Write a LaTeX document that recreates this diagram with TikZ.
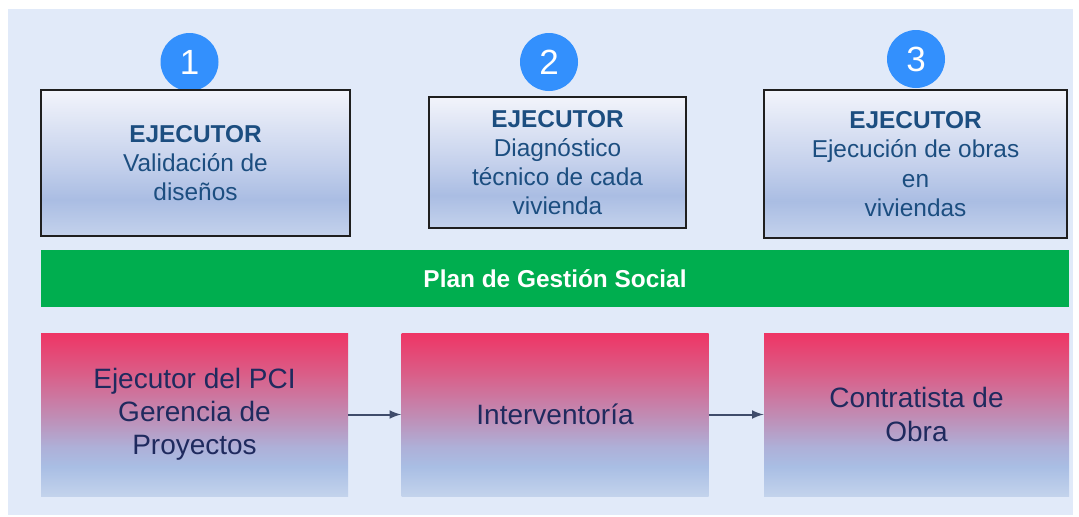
\documentclass[tikz,border=0pt]{standalone}
\usepackage{fontspec}
\setmainfont{Liberation Sans}
\usetikzlibrary{positioning}

\definecolor{fondo}{HTML}{E1EAF9}
\definecolor{textoazul}{HTML}{1C4E80}
\definecolor{textonavy}{HTML}{1F2A5E}
\definecolor{verdeplan}{HTML}{00AE4F}
\definecolor{azulnum}{HTML}{3390FD}
\definecolor{flechac}{HTML}{3F4C6B}
\definecolor{tbA}{HTML}{F2F4FB}
\definecolor{tbB}{HTML}{C5D1EC}
\definecolor{tbC}{HTML}{AABDE3}
\definecolor{tbD}{HTML}{C4D2EC}
\definecolor{bbA}{HTML}{EE3565}
\definecolor{bbB}{HTML}{DA5E88}
\definecolor{bbC}{HTML}{BE90B8}
\definecolor{bbD}{HTML}{AEB0D8}
\definecolor{bbE}{HTML}{A9BEE4}
\definecolor{bbF}{HTML}{C3D3EC}

\pgfdeclareverticalshading{ejecutorshade}{100bp}{color(0bp)=(tbD); color(25bp)=(tbD); color(37.5bp)=(tbC); color(50bp)=(tbB); color(75bp)=(tbA); color(100bp)=(tbA)}
\pgfdeclareverticalshading{actorshade}{100bp}{color(0bp)=(bbF); color(25bp)=(bbF); color(34bp)=(bbE); color(40bp)=(bbD); color(48.5bp)=(bbC); color(62.5bp)=(bbB); color(75bp)=(bbA); color(100bp)=(bbA)}

\tikzset{
  ejecutor/.style={draw=black!88, line width=0.75pt, shading=ejecutorshade, align=center,
    text=textoazul, font=\fontsize{12.2}{14.6}\selectfont, inner sep=0pt},
  actor/.style={shading=actorshade, align=center, text=textonavy,
    font=\fontsize{14}{16.6}\selectfont, inner sep=0pt,
    minimum width=153.5pt, minimum height=81.5pt},
  numcirc/.style={circle, fill=azulnum, text=white, inner sep=0pt,
    minimum size=29pt, font=\fontsize{17.5}{17.5}\selectfont},
  flecha/.style={-latex, line width=1pt, color=flechac},
}

\begin{document}
\begin{tikzpicture}[x=0.5pt,y=-0.5pt]
		\useasboundingbox (0,0) rectangle (1079,516);
		\fill[fondo] (8,9) rectangle (1073,515);
		% numeros
		\node[numcirc] (n1) at (189.5,62) {1};
		\node[numcirc] (n2) at (549,62) {2};
		\node[numcirc] (n3) at (916,59) {3};
		% cajas ejecutor
		\node[ejecutor, minimum width=154.5pt, minimum height=73pt] (valid) at (195.5,163)
			{\textbf{EJECUTOR}\\Validación de\\diseños};
		\node[ejecutor, minimum width=128.5pt, minimum height=65.5pt] (diag) at (557.5,162.5)
			{\textbf{EJECUTOR}\\Diagnóstico\\técnico de cada\\vivienda};
		\node[ejecutor, minimum width=151.5pt, minimum height=74pt] (obras) at (915.5,164)
			{\textbf{EJECUTOR}\\Ejecución de obras\\en\\viviendas};
		% plan
		\node[fill=verdeplan, text=white, minimum width=514pt, minimum height=28.5pt,
			font=\fontsize{12.2}{13}\selectfont\bfseries] (plan) at (555,278.5) {Plan de Gestión Social};
		% actores
		\node[actor] (pci) at (194.5,414.5) {Ejecutor del PCI\\Gerencia de\\Proyectos};
		\node[actor] (interv) at (555,414.5) {Interventoría};
		\node[actor, minimum width=152.5pt] (contr) at (916.5,414.5) {Contratista de\\Obra};
		\draw[flecha] (pci) -- (interv);
		\draw[flecha] (interv) -- (contr);
\end{tikzpicture}
\end{document}
